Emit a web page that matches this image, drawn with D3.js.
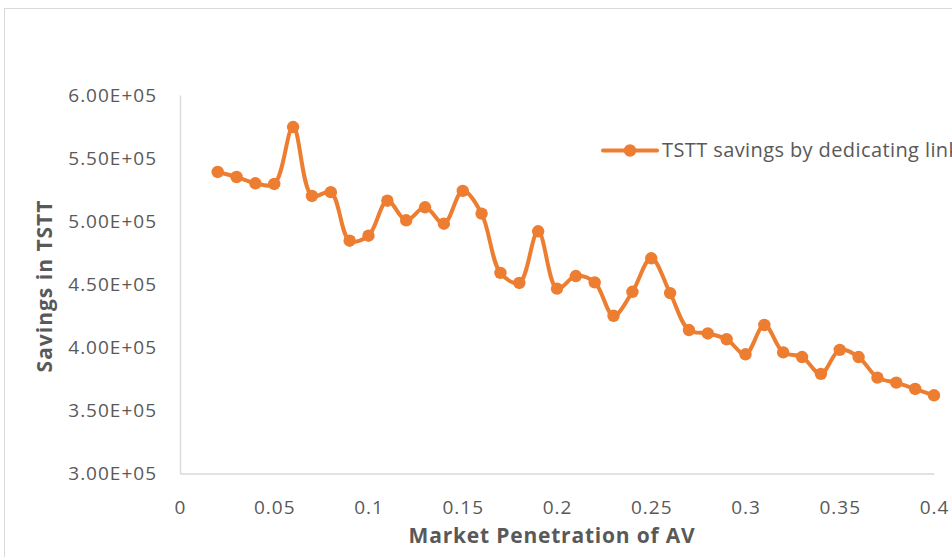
<!DOCTYPE html>
<html>
<head>
<meta charset="utf-8">
<script src="https://cdn.jsdelivr.net/npm/d3@7"></script>
<style>
  body { margin: 0; background: #fff; }
  svg { display: block; font-family: "Open Sans", sans-serif; }
</style>
</head>
<body>
<svg id="chart" width="952" height="557"></svg>
<script>
// market penetration of AV
const penetration = [0.02, 0.03, 0.04, 0.05, 0.06, 0.07, 0.08, 0.09, 0.10, 0.11,
    0.12, 0.13, 0.14, 0.15, 0.16, 0.17, 0.18, 0.19, 0.20, 0.21,
    0.22, 0.23, 0.24, 0.25, 0.26, 0.27, 0.28, 0.29, 0.30, 0.31,
    0.32, 0.33, 0.34, 0.35, 0.36, 0.37, 0.38, 0.39, 0.40];
// TSTT savings
const savings = [539000, 535000, 530000, 529500, 574600, 520000, 523000, 484500, 488500, 516200,
    500700, 511000, 498000, 524000, 506000, 459000, 451000, 492000, 446500, 456500,
    451500, 425000, 444000, 470600, 443000, 413700, 411000, 406400, 394500, 417700,
    396000, 392300, 379000, 398000, 392300, 376000, 372000, 367000, 362000];
const xTicks = [0, 0.05, 0.1, 0.15, 0.2, 0.25, 0.3, 0.35, 0.4];
const yTicks = [300000, 350000, 400000, 450000, 500000, 550000, 600000];
const seriesName = "TSTT savings by dedicating links";

const svg = d3.select("#chart");
const orange = "#ED7D31";
const textColor = "#595959";
const axisColor = "#d9d9d9";

// chart frame (cut off at the right and bottom)
svg.append("rect")
    .attr("x", 4.5).attr("y", 8.5)
    .attr("width", 1000).attr("height", 600)
    .attr("fill", "none")
    .attr("stroke", axisColor);

const x = d3.scaleLinear().domain([0, 0.4]).range([180, 934]);
const y = d3.scaleLinear().domain([300000, 600000]).range([473.5, 95]);

// axes
const xAxis = svg.append("g")
    .attr("transform", `translate(0, ${y(300000)})`)
    .call(d3.axisBottom(x).tickValues(xTicks).tickSize(0).tickPadding(27)
        .tickFormat(d => d3.format("")(+d.toFixed(2))));
xAxis.select(".domain").attr("stroke", axisColor).attr("stroke-width", 1.3);

const yAxis = svg.append("g")
    .attr("transform", `translate(${x(0)}, 0)`)
    .call(d3.axisLeft(y).tickValues(yTicks).tickSize(0).tickPadding(23)
        .tickFormat(d => (d / 1e5).toFixed(2) + "E+05"));
yAxis.select(".domain").attr("stroke", axisColor).attr("stroke-width", 1.3);

svg.selectAll(".tick text")
    .attr("fill", textColor)
    .style("font-size", "19px")
    .style("letter-spacing", "1px")
    .style("font-family", "Open Sans, sans-serif");

// axis titles
svg.append("text")
    .attr("x", 552).attr("y", 543)
    .attr("text-anchor", "middle")
    .attr("fill", textColor)
    .style("font-size", "21px")
    .style("letter-spacing", "0.8px")
    .style("font-weight", "bold")
    .text("Market Penetration of AV");

svg.append("text")
    .attr("transform", "translate(52, 286) rotate(-90)")
    .attr("text-anchor", "middle")
    .attr("fill", textColor)
    .style("font-size", "21px")
    .style("letter-spacing", "1px")
    .style("font-weight", "bold")
    .text("Savings in TSTT");

// line + markers
const data = penetration.map((p, i) => ({ p: p, v: savings[i] }));

const line = d3.line()
    .x(d => x(d.p))
    .y(d => y(d.v))
    .curve(d3.curveCatmullRom.alpha(0.5));

svg.append("path")
    .datum(data)
    .attr("d", line)
    .attr("fill", "none")
    .attr("stroke", orange)
    .attr("stroke-width", 4)
    .attr("stroke-linejoin", "round");

svg.selectAll(".dot")
    .data(data)
    .join("circle")
    .attr("class", "dot")
    .attr("cx", d => x(d.p))
    .attr("cy", d => y(d.v))
    .attr("r", 6.2)
    .attr("fill", orange);

// legend
const legend = svg.append("g").attr("transform", "translate(603, 150.5)");
legend.append("line")
    .attr("x1", 0).attr("x2", 54)
    .attr("stroke", orange).attr("stroke-width", 4)
    .attr("stroke-linecap", "round");
legend.append("circle").attr("cx", 27).attr("r", 6.2).attr("fill", orange);
legend.append("text")
    .attr("x", 59).attr("y", 6.5)
    .attr("fill", textColor)
    .style("font-size", "20px")
    .style("letter-spacing", "0.4px")
    .text(seriesName);
</script>
</body>
</html>
